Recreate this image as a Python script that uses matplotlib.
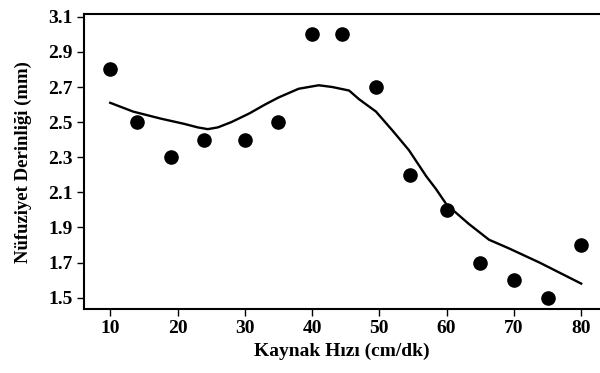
import matplotlib
matplotlib.use("Agg")
import matplotlib.pyplot as plt

speed = [10, 14, 19, 24, 30, 35, 40, 44.5, 49.5, 54.6, 60, 65, 70, 75, 80]
depth = [2.8, 2.5, 2.3, 2.4, 2.4, 2.5, 3.0, 3.0, 2.7, 2.2, 2.0, 1.7, 1.6, 1.5, 1.8]

fit_x = [10, 13.4, 17.5, 21, 23, 24.5, 26, 28, 30.7, 33, 35, 38, 41, 43, 45.5, 47,
         49.5, 52, 54.4, 57, 58.4, 60, 63.3, 66.3, 69.3, 73.8, 80]
fit_y = [2.61, 2.56, 2.52, 2.49, 2.47, 2.46, 2.47, 2.50, 2.55, 2.60, 2.64, 2.69, 2.71,
         2.70, 2.68, 2.63, 2.56, 2.45, 2.34, 2.19, 2.12, 2.03, 1.92, 1.83, 1.78,
         1.70, 1.58]

xticks = [10, 20, 30, 40, 50, 60, 70, 80]
yticks = [1.5, 1.7, 1.9, 2.1, 2.3, 2.5, 2.7, 2.9, 3.1]

plt.rcParams['font.family'] = ['Liberation Serif', 'DejaVu Serif']
fig = plt.figure(figsize=(6, 3.73), dpi=100)
ax = fig.add_axes([0.14, 0.171, 0.86, 0.791])

ax.plot(fit_x, fit_y, color='black', lw=1.7, zorder=2, solid_joinstyle='round')
ax.scatter(speed, depth, s=90, color='black', zorder=3)

ax.set_xlim(6.1, 82.8)
ax.set_ylim(1.434, 3.115)
ax.set_xticks(xticks)
ax.set_xticklabels([str(t) for t in xticks])
ax.set_yticks(yticks)
ax.set_yticklabels([f"{t:.1f}" for t in yticks])

for s in ['left', 'bottom', 'top']:
    ax.spines[s].set_linewidth(1.5)
ax.spines['right'].set_visible(False)

ax.tick_params(axis='both', direction='out', length=5, width=1, labelsize=14, pad=3)
for lab in ax.get_xticklabels() + ax.get_yticklabels():
    lab.set_fontweight('bold')

ax.set_xlabel('Kaynak Hızı (cm/dk)', fontsize=14, fontweight='bold', labelpad=4)
ax.set_ylabel('Nüfuziyet Derinliği (mm)', fontsize=13.5, fontweight='bold', labelpad=12)

fig.savefig('out.png', dpi=100)
